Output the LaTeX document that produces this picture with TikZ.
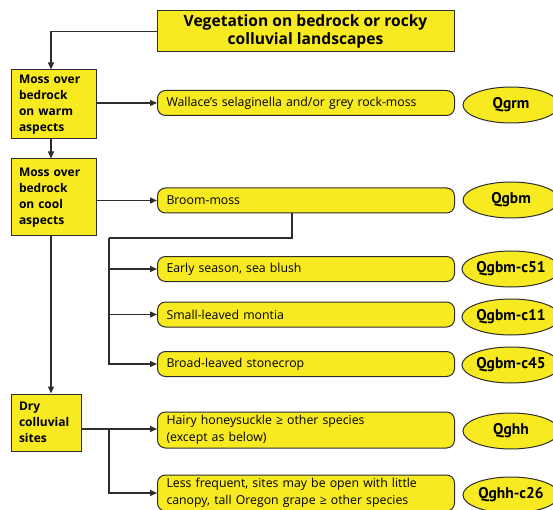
\documentclass[tikz,border=0pt]{standalone}
\usepackage{fontspec}
\setmainfont{Open Sans}
\newfontfamily\unitfont{PT Sans}
\usetikzlibrary{shapes.geometric,arrows.meta}
\definecolor{keyyellow}{RGB}{248,234,32}
\definecolor{keyline}{RGB}{45,45,45}

\begin{document}
\begin{tikzpicture}[x=1pt, y=-1pt,
  headbox/.style={draw=keyline, fill=keyyellow, line width=1pt, minimum width=297pt, minimum height=41pt, inner sep=0pt, align=center, font=\bfseries\fontsize{15.6}{18}\selectfont},
  sitebox/.style={draw=keyline, fill=keyyellow, line width=1pt, inner xsep=8pt, inner ysep=0pt, align=left, font=\bfseries\fontsize{12}{15.8}\selectfont},
  choicebox/.style={draw=keyline, fill=keyyellow, line width=1pt, rounded corners=8pt, text width=279pt, inner xsep=9pt, inner ysep=0pt, minimum height=25pt, align=left, font=\fontsize{12.3}{17}\selectfont},
  unitbox/.style={ellipse, draw=keyline, fill=keyyellow, line width=1pt, minimum width=96pt, minimum height=36pt, inner sep=0pt, font=\unitfont\bfseries\fontsize{15.5}{18}\selectfont},
  link/.style={draw=keyline, line width=1.3pt, -{Triangle[length=7pt,width=6pt]}},
  line/.style={draw=keyline, line width=1.3pt}]
\useasboundingbox (0,0) rectangle (553,510);

\node [headbox] (head) at (305.5,31.5) {Vegetation on bedrock or rocky\\colluvial landscapes};

\node [sitebox, text width=69pt, minimum height=69pt] (warm) at (53.5,104.5) {Moss over\\bedrock\\on warm\\aspects};
\node [sitebox, text width=69pt, minimum height=77pt] (cool) at (53.5,197.5) {Moss over\\bedrock\\on cool\\aspects};
\node [sitebox, text width=54pt, minimum height=57pt] (dry) at (46,422.5) {Dry\\colluvial\\sites};

\node [choicebox, anchor=west] (wallace) at (157,103) {Wallace's selaginella and/or grey rock-moss};
\node [choicebox, anchor=west] (broom) at (157,200.5) {Broom-moss};
\node [choicebox, anchor=west] (early) at (157,269) {Early season, sea blush};
\node [choicebox, anchor=west] (small) at (157,314.5) {Small-leaved montia};
\node [choicebox, anchor=west] (broad) at (157,364) {Broad-leaved stonecrop};
\node [choicebox, anchor=west, minimum height=36pt] (hairy) at (157,430) {Hairy honeysuckle ≥ other species\\(except as below)};
\node [choicebox, anchor=west, minimum height=36pt] (less) at (157,493) {Less frequent, sites may be open with little\\canopy, tall Oregon grape ≥ other species};

\node [unitbox] (qgrm) at (511,105) {Qgrm};
\node [unitbox] (qgbm) at (511,200) {Qgbm};
\node [unitbox] (qc51) at (511,269) {Qgbm-c51};
\node [unitbox] (qc11) at (511,317) {Qgbm-c11};
\node [unitbox] (qc45) at (511,365) {Qgbm-c45};
\node [unitbox] (qghh) at (511,431) {Qghh};
\node [unitbox] (qc26) at (511,495) {Qghh-c26};

\coordinate (trunk) at (51,0);
\coordinate (bdrop) at (292,238);
\coordinate (bsplit) at (109,238);
\coordinate (dsplit) at (109,429);

\draw [link] (head.west) -| (trunk |- warm.north);
\draw [link] (trunk |- warm.south) -- (trunk |- cool.north);
\draw [link] (trunk |- cool.south) -- (trunk |- dry.north);
\draw [link] (warm.east |- wallace.west) -- (wallace.west);
\draw [link] (cool.east |- broom.west) -- (broom.west);

\draw [line] (broom.south -| bdrop) -- (bdrop) -- (bsplit);
\draw [link] (bsplit |- early.west) -- (early.west);
\draw [link] (bsplit |- small.west) -- (small.west);
\draw [link] (bsplit) |- (broad.west);

\draw [link] (dry.east |- dsplit) -- (hairy.west |- dsplit);
\draw [link] (dsplit) |- (less.west);
\end{tikzpicture}
\end{document}
